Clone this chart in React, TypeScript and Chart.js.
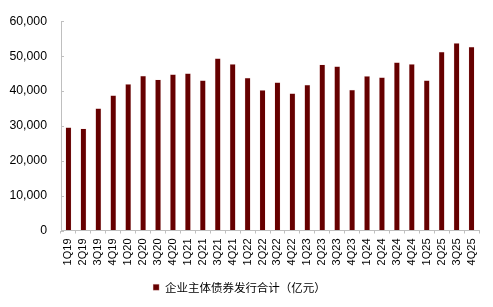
import React, { useEffect, useRef } from "react";
import { Chart, registerables } from "chart.js";

Chart.register(...registerables);

const categories = [
  "1Q19", "2Q19", "3Q19", "4Q19",
  "1Q20", "2Q20", "3Q20", "4Q20",
  "1Q21", "2Q21", "3Q21", "4Q21",
  "1Q22", "2Q22", "3Q22", "4Q22",
  "1Q23", "2Q23", "3Q23", "4Q23",
  "1Q24", "2Q24", "3Q24", "4Q24",
  "1Q25", "2Q25", "3Q25", "4Q25",
];

const issuance = [
  29600, 29300, 35100, 38800,
  42000, 44400, 43300, 44800,
  45100, 43100, 49400, 47800,
  43800, 40300, 42500, 39400,
  41800, 47600, 47100, 40400,
  44300, 44000, 48300, 47800,
  43100, 51300, 53800, 52700,
];

const seriesName = "企业主体债券发行合计（亿元）";
const yTicks = [0, 10000, 20000, 30000, 40000, 50000, 60000];

const innerTicks = {
  id: "innerTicks",
  afterDraw(chart: any) {
    const y = chart.scales.y;
    const ctx = chart.ctx;
    ctx.save();
    ctx.strokeStyle = "#bfbfbf";
    ctx.lineWidth = 1;
    yTicks.forEach((v) => {
      const py = Math.round(y.getPixelForValue(v)) + 0.5;
      ctx.beginPath();
      ctx.moveTo(chart.chartArea.left, py);
      ctx.lineTo(chart.chartArea.left + 3, py);
      ctx.stroke();
    });
    ctx.restore();
  },
};

export default function App() {
  const ref = useRef<HTMLCanvasElement | null>(null);

  useEffect(() => {
    document.body.style.margin = "0";
    const chart = new Chart(ref.current as HTMLCanvasElement, {
      type: "bar",
      data: {
        labels: categories,
        datasets: [
          {
            label: seriesName,
            data: issuance,
            backgroundColor: "#660000",
            borderColor: "rgba(230,190,190,0.6)",
            borderWidth: 0.5,
            barPercentage: 0.5,
            categoryPercentage: 0.8,
          },
        ],
      },
      options: {
        animation: false,
        responsive: false,
        layout: { padding: { top: 15, right: 14, bottom: 4, left: 0 } },
        plugins: {
          tooltip: { enabled: false },
          legend: {
            position: "bottom",
            labels: {
              boxWidth: 6,
              boxHeight: 6,
              padding: 10,
              color: "#000",
              font: { family: "'Noto Sans CJK SC', 'Liberation Sans'", size: 11.5 },
            },
          },
        },
        scales: {
          x: {
            grid: {
              drawOnChartArea: false,
              drawTicks: true,
              tickLength: 3,
              color: "#bfbfbf",
              offset: true,
            },
            border: { color: "#bfbfbf" },
            ticks: {
              minRotation: 90,
              maxRotation: 90,
              autoSkip: false,
              padding: 5,
              color: "#000",
              font: { family: "'Liberation Sans', Arial", size: 11 },
            },
            afterFit(scale: any) {
              scale.height = 41;
            },
          },
          y: {
            min: 0,
            max: 60000,
            grid: { display: true, drawOnChartArea: false, drawTicks: false },
            border: { color: "#bfbfbf" },
            ticks: {
              stepSize: 10000,
              padding: 14,
              color: "#000",
              font: { family: "'Liberation Sans', Arial", size: 12.3 },
              callback: (v: any) => Number(v).toLocaleString("en-US"),
            },
            afterFit(scale: any) {
              scale.width = 61;
            },
          },
        },
      },
      plugins: [innerTicks],
    });
    return () => chart.destroy();
  }, []);

  return (
    <div style={{ position: "absolute", left: 0, top: 0, width: 493, height: 307 }}>
      <canvas ref={ref} width={493} height={307} style={{ width: 493, height: 307 }} />
    </div>
  );
}
